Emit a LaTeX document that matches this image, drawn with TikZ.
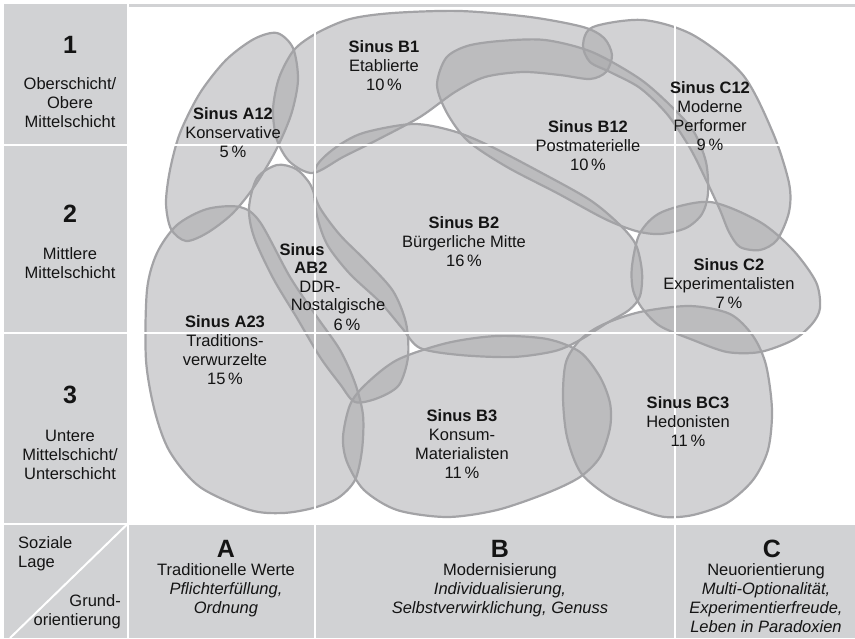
\documentclass[tikz,border=0pt]{standalone}
\usepackage{fontspec}
\setmainfont{Liberation Sans}
\definecolor{panel}{RGB}{209,210,212}
\definecolor{blobfill}{RGB}{167,167,170}
\definecolor{blobline}{RGB}{163,163,166}
\definecolor{ink}{RGB}{20,20,20}
\tikzset{
  blobfill/.style={fill=blobfill, fill opacity=0.5},
  blobedge/.style={draw=blobline, line width=2.2pt},
  grid/.style={draw=white, line width=2pt},
  lab/.style={align=center, font=\fontsize{16.5}{19}\selectfont, text=ink, inner sep=0pt, anchor=base},
  big/.style={font=\fontsize{25}{25}\selectfont\bfseries, text=ink, inner sep=0pt, anchor=base}
}
\def\pAtwelve{plot[smooth cycle] coordinates {(277,33) (293,48) (298,80) (291,115) (275,152) (254,187) (232,214) (207,233) (186,241) (171,229) (166,203) (170,170) (180,133) (200,93) (226,60) (254,39)}}
\def\pBone{plot[smooth cycle] coordinates {(317,33) (350,19) (393,13) (460,11) (530,17) (583,27) (604,38) (612,55) (606,72) (590,79) (560,75) (523,72) (485,77) (455,92) (420,117) (377,140) (343,157) (313,173) (290,162) (277,140) (273,110) (279,78) (294,50)}}
\def\pBtwelve{plot[smooth cycle] coordinates {(437,85) (446,58) (467,46) (500,41) (545,40) (592,52) (640,79) (673,108) (694,132) (706,162) (708,193) (702,214) (686,228) (660,234) (636,231) (605,219) (557,193) (507,167) (468,141) (447,113)}}
\def\pCtwelve{plot[smooth cycle] coordinates {(593,27) (643,20) (693,35) (743,75) (773,133) (789,183) (789,212) (777,240) (760,250) (740,247) (729,232) (720,210) (707,182) (690,148) (667,114) (640,88) (610,72) (590,62) (583,45)}}
\def\pBtwo{plot[smooth cycle] coordinates {(316,167) (335,148) (363,133) (413,124) (453,131) (490,146) (540,172) (590,200) (620,225) (636,245) (642,272) (640,296) (629,310) (607,323) (580,340) (555,351) (513,357) (460,355) (420,348) (402,328) (380,302) (350,274) (328,246) (318,220) (314,193)}}
\def\pABtwo{plot[smooth cycle] coordinates {(277,165) (296,169) (310,184) (320,208) (340,235) (367,262) (393,291) (406,323) (408,357) (399,385) (378,398) (355,402) (340,384) (320,357) (297,318) (273,278) (254,237) (249,208) (257,178)}}
\def\pAtwothree{plot[smooth cycle] coordinates {(147,290) (157,253) (177,225) (207,209) (240,207) (260,222) (290,277) (317,317) (340,350) (355,383) (363,415) (362,450) (355,480) (338,498) (313,508) (283,513) (250,510) (200,487) (170,452) (155,412) (146,360)}}
\def\pBthree{plot[smooth cycle] coordinates {(343,437) (350,405) (365,385) (397,360) (447,343) (497,336) (547,339) (580,352) (600,377) (610,403) (610,428) (600,457) (580,477) (547,493) (497,510) (447,517) (397,510) (364,490) (347,462)}}
\def\pBCthree{plot[smooth cycle] coordinates {(566,362) (580,340) (602,325) (640,312) (690,306) (730,314) (753,336) (766,365) (772,410) (768,450) (753,480) (727,503) (693,515) (665,517) (641,510) (610,497) (581,473) (567,437) (563,397)}}
\def\pCtwo{plot[smooth cycle] coordinates {(640,233) (662,212) (710,202) (760,222) (793,250) (816,282) (820,308) (812,324) (793,340) (760,352) (727,352) (693,340) (660,326) (642,308) (633,290) (632,266)}}
\begin{document}
\begin{tikzpicture}[x=1pt,y=-1pt]
\useasboundingbox (0,0) rectangle (855,638);
% panels
\fill[white] (0,0) rectangle (855,638);
\fill[panel] (4,4) rectangle (855,638);
\fill[white] (128,7) rectangle (855,524);
% blob fills
\foreach \p in {\pAtwelve,\pBone,\pBtwelve,\pCtwelve,\pBtwo,\pABtwo,\pAtwothree,\pBthree,\pBCthree,\pCtwo}{
  \path[blobfill] \p;
}
% blob outlines
\foreach \p in {\pAtwelve,\pBone,\pBtwelve,\pCtwelve,\pBtwo,\pABtwo,\pAtwothree,\pBthree,\pBCthree,\pCtwo}{
  \path[blobedge] \p;
}
% white grid
\coordinate (h1a) at (4,145);   \coordinate (h1b) at (855,145);
\coordinate (h2a) at (4,333);   \coordinate (h2b) at (855,333);
\coordinate (h3a) at (4,523.5); \coordinate (h3b) at (855,523.5);
\coordinate (v0a) at (128,4);   \coordinate (v0b) at (128,638);
\coordinate (v1a) at (315,7);   \coordinate (v1b) at (315,638);
\coordinate (v2a) at (675,7);   \coordinate (v2b) at (675,638);
\coordinate (da) at (128,523.5); \coordinate (db) at (10,638);
\draw[grid] (h1a) -- (h1b);
\draw[grid] (h2a) -- (h2b);
\draw[grid] (h3a) -- (h3b);
\draw[grid] (v0a) -- (v0b);
\draw[grid] (v1a) -- (v1b);
\draw[grid] (v2a) -- (v2b);
\draw[grid] (da) -- (db);
% left column (anchor base = baseline of the last line)
\node[big] (n1) at (70,53) {1};
\node[lab] (r1) at (70,127) {Oberschicht/\\Obere\\Mittelschicht};
\node[big] (n2) at (70,222) {2};
\node[lab] (r2) at (70,278) {Mittlere\\Mittelschicht};
\node[big] (n3) at (70,403) {3};
\node[lab] (r3) at (70,479) {Untere\\Mittelschicht/\\Unterschicht};
\node[lab, align=left, anchor=base west] (soz) at (18,567) {Soziale\\Lage};
\node[lab, align=right, anchor=base east] (grund) at (121,625) {Grund-\\orientierung};
% bottom row
\node[big] (ca) at (226,557) {A};
\node[lab] (ta) at (226,613) {Traditionelle Werte\\\textit{Pflichterfüllung,}\\\textit{Ordnung}};
\node[big] (cb) at (500,557) {B};
\node[lab] (tb) at (500,613) {Modernisierung\\\textit{Individualisierung,}\\\textit{Selbstverwirklichung, Genuss}};
\node[big] (cc) at (772,557) {C};
\node[lab] (tc) at (766,632) {Neuorientierung\\\textit{Multi-Optionalität,}\\\textit{Experimentierfreude,}\\\textit{Leben in Paradoxien}};
% blob labels
\node[lab] (la12) at (233,157) {\textbf{Sinus A12}\\Konservative\\5\,\%};
\node[lab] (lb1) at (384,90) {\textbf{Sinus B1}\\Etablierte\\10\,\%};
\node[lab] (lb12) at (588,170) {\textbf{Sinus B12}\\Postmaterielle\\10\,\%};
\node[lab] (lc12) at (710,150) {\textbf{Sinus C12}\\Moderne\\Performer\\9\,\%};
\node[lab] (lb2) at (464,266) {\textbf{Sinus B2}\\Bürgerliche Mitte\\16\,\%};
\node[lab] (lab2a) at (302,255) {\textbf{Sinus}};
\node[lab] (lab2b) at (311,273) {\textbf{AB2}};
\node[lab] (lab2c) at (320,292) {DDR-};
\node[lab] (lab2d) at (338,310) {Nostalgische};
\node[lab] (lab2e) at (347,330) {6\,\%};
\node[lab] (lc2) at (729,308) {\textbf{Sinus C2}\\Experimentalisten\\7\,\%};
\node[lab] (la23) at (225,384) {\textbf{Sinus A23}\\Traditions-\\verwurzelte\\15\,\%};
\node[lab] (lb3) at (462,478) {\textbf{Sinus B3}\\Konsum-\\Materialisten\\11\,\%};
\node[lab] (lbc3) at (688,446) {\textbf{Sinus BC3}\\Hedonisten\\11\,\%};
\end{tikzpicture}
\end{document}
